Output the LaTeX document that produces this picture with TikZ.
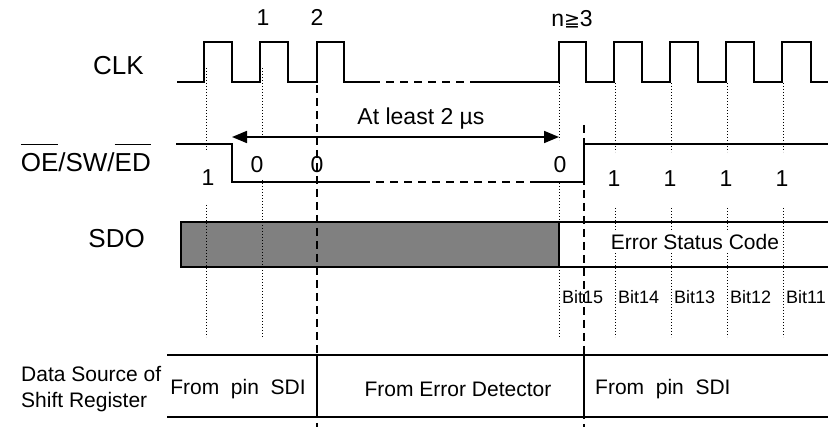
\documentclass[tikz,border=0pt]{standalone}
\usepackage{fontspec}
\setmainfont{Liberation Sans}
\newfontfamily\dejavu{DejaVu Sans}
\usetikzlibrary{arrows.meta}
\newcommand\ovlbar[1]{\leavevmode\setbox0\hbox{#1}\rlap{\raisebox{1.05em}{\rule{\wd0}{1pt}}}\box0}
\begin{document}
\begin{tikzpicture}[x=1pt,y=-1pt,
  wave/.style={line width=2pt, line join=miter},
  wavedash/.style={line width=2pt, dash pattern=on 8pt off 6pt},
  dotln/.style={line width=1pt, dash pattern=on 1pt off 2pt},
  dashln/.style={line width=1.5pt, dash pattern=on 8pt off 5pt},
  boxln/.style={line width=2pt},
  bigtxt/.style={font=\fontsize{26}{28}\selectfont, inner sep=0pt},
  numtxt/.style={font=\fontsize{23}{26}\selectfont, inner sep=0pt},
  midtxt/.style={font=\fontsize{21}{24}\selectfont, inner sep=0pt},
  bittxt/.style={font=\fontsize{18}{20}\selectfont, inner sep=0pt}]
\useasboundingbox (0,0) rectangle (828,427);

% SDO box fill
\fill[gray] (181,222) rectangle (559,267);
\draw[boxln] (828,222) -- (181,222) -- (181,267) -- (828,267);
\draw[line width=2.5pt] (559,222) -- (559,267);

% CLK waveform
\draw[wave] (177,82) -- (204,82) -- (204,42) -- (232,42) -- (232,82) -- (260,82) -- (260,42) -- (288,42) -- (288,82) -- (317,82) -- (317,42) -- (344,42) -- (344,82) -- (372,82);
\draw[wavedash] (372,82) -- (475,82);
\draw[wave] (475,82) -- (559,82) -- (559,42) -- (586,42) -- (586,82) -- (614,82) -- (614,42) -- (642,42) -- (642,82) -- (670,82) -- (670,42) -- (698,42) -- (698,82) -- (726,82) -- (726,42) -- (754,42) -- (754,82) -- (782,82) -- (782,42) -- (811,42) -- (811,82) -- (828,82);

% OE/SW/ED waveform
\draw[wave] (176,144) -- (232,144) -- (232,182) -- (362,182);
\draw[wavedash] (362,182) -- (537,182);
\draw[wave] (537,182) -- (584,182) -- (584,144) -- (828,144);

% dotted guides
\draw[dotln] (206,68) -- (206,150);
\draw[dotln] (206,205) -- (206,337);
\draw[dotln] (262,68) -- (262,137);
\draw[dotln] (262,180) -- (262,337);
\draw[dotln] (559,83) -- (559,140);
\draw[dotln] (559,183) -- (559,337);
\foreach \xx in {615,671,727,783}{
  \draw[dotln] (\xx,83) -- (\xx,152);
  \draw[dotln] (\xx,208) -- (\xx,337);
}

% dashed guides
\draw[dashln] (317,72) -- (317,427);
\draw[dashln] (584,125) -- (584,427);

% arrow
\coordinate (arrL) at (232,137);
\coordinate (arrR) at (559,137);
\draw[line width=1.7pt, {Triangle[length=15pt,width=12pt]}-{Triangle[length=15pt,width=12pt]}] (arrL) -- (arrR);
\node[numtxt, anchor=base] (atleast) at (421,125) {At least 2 µs};

% signal labels
\node[bigtxt, anchor=base east] (clk) at (144,75) {CLK};
\node[bigtxt, anchor=base east] (oe) at (151,172) {\ovlbar{OE}/SW/\ovlbar{ED}};
\node[bigtxt, anchor=base east] (sdo) at (145,248) {SDO};

% clock numbers
\node[numtxt, anchor=base] (c1) at (263,26) {1};
\node[numtxt, anchor=base] (c2) at (317,26) {2};
\node[numtxt, anchor=base] (cn) at (572,27) {n{\dejavu\fontsize{19}{20}\selectfont ≧}3};

% OE values
\node[numtxt, anchor=base] (v1) at (208,186) {1};
\node[numtxt, anchor=base] (v2) at (257,173) {0};
\node[numtxt, anchor=base] (v3) at (317,173) {0};
\node[numtxt, anchor=base] (v4) at (560,173) {0};
\node[numtxt, anchor=base] (v5) at (614,187) {1};
\node[numtxt, anchor=base] (v6) at (670,187) {1};
\node[numtxt, anchor=base] (v7) at (726,187) {1};
\node[numtxt, anchor=base] (v8) at (782,187) {1};

% SDO text
\node[midtxt, anchor=base, fill=white, inner xsep=4pt, inner ysep=3pt] (esc) at (695,250) {Error Status Code};
\node[bittxt, anchor=base west] (b15) at (562,304) {Bit15};
\node[bittxt, anchor=base west] (b14) at (618,304) {Bit14};
\node[bittxt, anchor=base west] (b13) at (674,304) {Bit13};
\node[bittxt, anchor=base west] (b12) at (730,304) {Bit12};
\node[bittxt, anchor=base west] (b11) at (786,304) {Bit11};

% table
\draw[boxln] (167,355) -- (828,355);
\draw[boxln] (167,417) -- (828,417);
\draw[boxln] (317,355) -- (317,417);
\draw[boxln] (584,355) -- (584,417);
\node[midtxt, anchor=base west] (ds1) at (21,382) {Data Source of};
\node[midtxt, anchor=base west] (ds2) at (21,408) {Shift Register};
\node[midtxt, anchor=base] (f1) at (238,395) {From\ \ pin\ \ SDI};
\node[midtxt, anchor=base] (f2) at (458,397) {From Error Detector};
\node[midtxt, anchor=base west] (f3) at (595,395) {From\ \ pin\ \ SDI};
\end{tikzpicture}
\end{document}
